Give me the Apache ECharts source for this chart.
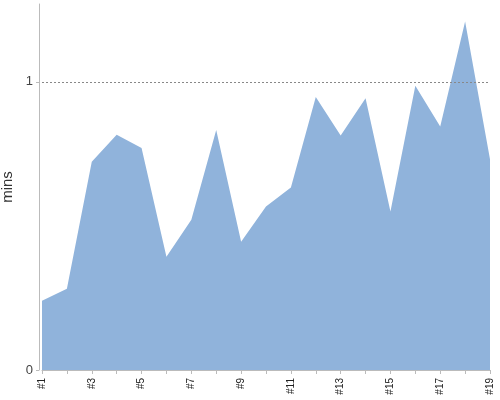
<!DOCTYPE html>
<html>
<head>
<meta charset="utf-8">
<script src="https://cdn.jsdelivr.net/npm/echarts@6/dist/echarts.min.js"></script>
<style>html,body{margin:0;padding:0;background:#fff}#c{width:500px;height:400px}</style>
</head>
<body>
<div id="c"></div>
<script>
var categories = ['#1','#2','#3','#4','#5','#6','#7','#8','#9','#10','#11','#12','#13','#14','#15','#16','#17','#18','#19'];
var values = [0.240,0.282,0.723,0.816,0.770,0.393,0.521,0.833,0.445,0.567,0.633,0.947,0.814,0.943,0.550,0.986,0.845,1.209,0.731];
var yTicks = [0, 1];
var refLine = 1;

var chart = echarts.init(document.getElementById('c'), null, {renderer: 'canvas'});
chart.setOption({
  animation: false,
  grid: {left: 42, right: 10, top: 4, bottom: 30, containLabel: false, outerBoundsMode: 'none'},
  xAxis: {
    type: 'category',
    data: categories,
    boundaryGap: false,
    offset: 4,
    axisLine: {lineStyle: {color: '#bbb', width: 1}},
    axisTick: {show: true, interval: 0, length: 4, lineStyle: {color: '#bbb'}},
    axisLabel: {interval: 1, rotate: 90, fontSize: 10, color: '#222', fontFamily: 'Liberation Sans, Arial, sans-serif', margin: 4}
  },
  yAxis: {
    type: 'value',
    min: 0,
    max: 1.27,
    interval: 1,
    offset: 3,
    name: 'mins',
    nameLocation: 'middle',
    nameGap: 22,
    nameRotate: 90,
    nameTextStyle: {fontSize: 15, color: '#333', fontFamily: 'Liberation Sans, Arial, sans-serif'},
    axisLine: {show: true, lineStyle: {color: '#bbb', width: 1}},
    axisTick: {show: true, length: 3, lineStyle: {color: '#bbb'}},
    axisLabel: {showMaxLabel: false, fontSize: 13, color: '#444', margin: 6, fontFamily: 'Liberation Sans, Arial, sans-serif',
      formatter: function (v) { return yTicks.indexOf(v) >= 0 ? String(v) : ''; }},
    splitLine: {show: false}
  },
  series: [{
    type: 'line',
    data: values,
    symbol: 'none',
    lineStyle: {width: 0},
    areaStyle: {color: '#90b3db', opacity: 1},
    z: 1,
    markLine: {
      silent: true,
      symbol: 'none',
      label: {show: false},
      lineStyle: {type: [2, 2], color: '#888', width: 1},
      data: [{yAxis: refLine}],
      z: 3
    }
  }]
});
</script>
</body>
</html>
